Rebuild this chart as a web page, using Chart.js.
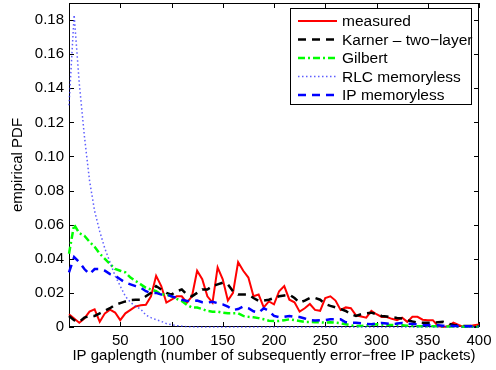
<!DOCTYPE html>
<html>
<head>
<meta charset="utf-8">
<title>IP gaplength PDF</title>
<script src="https://cdn.jsdelivr.net/npm/chart.js@4.4.0/dist/chart.umd.min.js"></script>
<style>
  html, body { margin: 0; padding: 0; background: #fff; }
  #wrap { position: relative; width: 496px; height: 370px; }
</style>
</head>
<body>
<div id="wrap"><canvas id="pdfChart"></canvas></div>
<script>
// gap length bins (IP packets)
const gapLength = [
    0, 5, 10, 15, 20, 25, 30, 35, 40, 45,
    50, 55, 60, 65, 70, 75, 80, 85, 90, 95,
    100, 105, 110, 115, 120, 125, 130, 135, 140, 145,
    150, 155, 160, 165, 170, 175, 180, 185, 190, 195,
    200, 205, 210, 215, 220, 225, 230, 235, 240, 245,
    250, 255, 260, 265, 270, 275, 280, 285, 290, 295,
    300, 305, 310, 315, 320, 325, 330, 335, 340, 345,
    350, 355, 360, 365, 370, 375, 380, 385, 390, 395,
    400
];

const pdfMeasured = [
    0.0075, 0.005, 0.0025, 0.005, 0.009, 0.0104, 0.003, 0.008, 0.0102, 0.0085,
    0.004, 0.008, 0.010, 0.012, 0.0127, 0.013, 0.018, 0.030, 0.024, 0.0143,
    0.016, 0.018, 0.018, 0.0143, 0.018, 0.033, 0.028, 0.018, 0.0143, 0.035,
    0.028, 0.0155, 0.020, 0.038, 0.033, 0.029, 0.018, 0.019, 0.0115, 0.015,
    0.0133, 0.021, 0.024, 0.016, 0.0145, 0.009, 0.011, 0.0135, 0.010, 0.0095,
    0.017, 0.018, 0.0155, 0.010, 0.0115, 0.011, 0.0068, 0.0062, 0.0055, 0.0095,
    0.0075, 0.0059, 0.0059, 0.0048, 0.004, 0.0055, 0.003, 0.006, 0.006, 0.0043,
    0.004, 0.004, 0.0005, 0, 0.0005, 0.0025, 0.0012, 0, 0.0005, 0.001,
    0.0015
];

const pdfKarner = [
    0.0065, 0.004, 0.003, 0.0055, 0.0065, 0.0065, 0.008, 0.0095, 0.011, 0.013,
    0.014, 0.015, 0.0158, 0.016, 0.016, 0.018, 0.020, 0.024, 0.022, 0.020,
    0.019, 0.021, 0.022, 0.019, 0.018, 0.020, 0.022, 0.022, 0.024, 0.025,
    0.026, 0.025, 0.021, 0.019, 0.019, 0.019, 0.017, 0.0153, 0.0155, 0.016,
    0.017, 0.018, 0.0185, 0.019, 0.017, 0.0143, 0.0155, 0.017, 0.017, 0.016,
    0.0135, 0.0124, 0.0115, 0.0105, 0.0094, 0.0075, 0.0065, 0.0075, 0.008, 0.0084,
    0.0075, 0.0065, 0.0062, 0.0058, 0.0053, 0.005, 0.004, 0.0032, 0.0027, 0.0025,
    0.0025, 0.0026, 0.0028, 0.003, 0.002, 0.0012, 0.0009, 0.0006, 0.0006, 0.0006,
    0.0005
];

const pdfGilbert = [
    0.043, 0.060, 0.055, 0.0535, 0.050, 0.047, 0.043, 0.040, 0.037, 0.034,
    0.033, 0.032, 0.029, 0.027, 0.025, 0.023, 0.022, 0.021, 0.019, 0.019,
    0.018, 0.0165, 0.0153, 0.013, 0.0114, 0.0114, 0.0105, 0.0094, 0.009, 0.009,
    0.0084, 0.008, 0.008, 0.008, 0.0065, 0.006, 0.0057, 0.0052, 0.0045, 0.0037,
    0.0035, 0.0035, 0.004, 0.0045, 0.004, 0.0035, 0.003, 0.003, 0.0028, 0.0028,
    0.0025, 0.0028, 0.0025, 0.0022, 0.0016, 0.001, 0.0006, 0.0006, 0.0008, 0.0012,
    0.0016, 0.0014, 0.0012, 0.0012, 0.0012, 0.001, 0.0008, 0.0006, 0.0005, 0.0005,
    0.0005, 0.0004, 0.0004, 0.0003, 0.0003, 0.0003, 0.0002, 0.0002, 0.0002, 0.0002,
    0.0001
];

const pdfRlc = [
    0.13, 0.183, 0.143, 0.112, 0.086, 0.068, 0.056, 0.046, 0.038, 0.030,
    0.024, 0.018, 0.0145, 0.012, 0.0105, 0.007, 0.0055, 0.0043, 0.0033, 0.002,
    0.0013, 0.0008, 0.0005, 0.0002, 0.0001, 0, 0, 0, 0, 0,
    0, 0, 0, 0, 0, 0, 0, 0, 0, 0,
    0, 0, 0, 0, 0, 0, 0, 0, 0, 0,
    0, 0, 0, 0, 0, 0, 0, 0, 0, 0,
    0, 0, 0, 0, 0, 0, 0, 0, 0, 0,
    0, 0, 0, 0, 0, 0, 0, 0, 0, 0,
    0
];

const pdfIp = [
    0.032, 0.041, 0.038, 0.034, 0.031, 0.034, 0.034, 0.033, 0.031, 0.030,
    0.028, 0.026, 0.025, 0.024, 0.023, 0.021, 0.020, 0.020, 0.019, 0.019,
    0.018, 0.017, 0.016, 0.0153, 0.0153, 0.0155, 0.0145, 0.0143, 0.0148, 0.014,
    0.0133, 0.012, 0.010, 0.0105, 0.012, 0.011, 0.0092, 0.0084, 0.011, 0.0095,
    0.0065, 0.0058, 0.006, 0.0065, 0.006, 0.0058, 0.005, 0.004, 0.0038, 0.004,
    0.004, 0.0045, 0.0045, 0.0045, 0.0028, 0.0025, 0.0025, 0.0022, 0.0018, 0.0016,
    0.002, 0.0024, 0.002, 0.0016, 0.002, 0.0024, 0.002, 0.0018, 0.0015, 0.0012,
    0.001, 0.0012, 0.001, 0.0008, 0.0008, 0.0006, 0.0006, 0.0005, 0.0005, 0.0004,
    0.0004
];

const xTicks = [0, 50, 100, 150, 200, 250, 300, 350, 400];
const yTicks = [0, 0.02, 0.04, 0.06, 0.08, 0.1, 0.12, 0.14, 0.16, 0.18];

const FONT = { family: "'Liberation Sans', Arial, Helvetica, sans-serif", size: 15 };

function toPoints(values) {
    return gapLength.map((g, i) => ({ x: g, y: values[i] }));
}

// box around the axes with inward ticks on all four sides
const axesFrame = {
    id: 'axesFrame',
    beforeDatasetsDraw(chart) {
        const { ctx, chartArea: a, scales: { x, y } } = chart;
        const len = 5;
        ctx.save();
        ctx.strokeStyle = '#000';
        ctx.lineWidth = 1;
        ctx.strokeRect(a.left + 0.5, a.top + 0.5, a.right - a.left - 1, a.bottom - a.top - 1);
        ctx.beginPath();
        xTicks.forEach(v => {
            const px = Math.round(x.getPixelForValue(v)) + 0.5;
            ctx.moveTo(px, a.bottom); ctx.lineTo(px, a.bottom - len);
            ctx.moveTo(px, a.top); ctx.lineTo(px, a.top + len);
        });
        yTicks.forEach(v => {
            const py = Math.round(y.getPixelForValue(v)) + 0.5;
            ctx.moveTo(a.left, py); ctx.lineTo(a.left + len, py);
            ctx.moveTo(a.right, py); ctx.lineTo(a.right - len, py);
        });
        ctx.stroke();
        ctx.restore();
    }
};

// legend box in the upper right corner
const boxLegend = {
    id: 'boxLegend',
    afterDatasetsDraw(chart) {
        const { ctx } = chart;
        const bx = 290, by = 8, bw = 182, bh = 97;
        ctx.save();
        ctx.fillStyle = '#fff';
        ctx.fillRect(bx, by, bw, bh);
        ctx.strokeStyle = '#000';
        ctx.lineWidth = 1;
        ctx.strokeRect(bx + 0.5, by + 0.5, bw - 1, bh - 1);
        ctx.font = `15.5px ${FONT.family}`;
        ctx.textBaseline = 'middle';
        chart.data.datasets.forEach((ds, i) => {
            const ry = by + 13 + i * 18.5;
            ctx.beginPath();
            ctx.setLineDash(ds.borderDash || []);
            ctx.lineWidth = ds.borderWidth;
            ctx.strokeStyle = ds.borderColor;
            ctx.moveTo(bx + 8, ry);
            ctx.lineTo(bx + 47, ry);
            ctx.stroke();
            ctx.setLineDash([]);
            ctx.fillStyle = '#000';
            ctx.fillText(ds.label, bx + 52, ry + 1);
        });
        ctx.restore();
    }
};

const ctx = document.getElementById('pdfChart').getContext('2d');
new Chart(ctx, {
    type: 'line',
    data: {
        datasets: [
            {
                label: 'measured',
                data: toPoints(pdfMeasured),
                borderColor: '#ff0000',
                borderWidth: 2,
                order: 5
            },
            {
                label: 'Karner \u2013 two\u2212layer',
                data: toPoints(pdfKarner),
                borderColor: '#000000',
                borderWidth: 2.5,
                borderDash: [8, 6],
                order: 4
            },
            {
                label: 'Gilbert',
                data: toPoints(pdfGilbert),
                borderColor: '#00ff00',
                borderWidth: 2.5,
                borderDash: [7, 3, 2, 3],
                order: 3
            },
            {
                label: 'RLC memoryless',
                data: toPoints(pdfRlc),
                borderColor: 'rgba(40, 40, 255, 0.75)',
                borderWidth: 1.5,
                borderDash: [1.5, 2.5],
                order: 2
            },
            {
                label: 'IP memoryless',
                data: toPoints(pdfIp),
                borderColor: '#0000ff',
                borderWidth: 2.5,
                borderDash: [8, 6],
                order: 1
            }
        ]
    },
    options: {
        responsive: true,
        maintainAspectRatio: false,
        animation: false,
        devicePixelRatio: 1,
        layout: { padding: { top: 3, right: 17, left: 0, bottom: 0 } },
        elements: {
            point: { radius: 0 },
            line: { tension: 0, fill: false }
        },
        datasets: { line: { clip: false } },
        plugins: {
            legend: { display: false },
            tooltip: { enabled: false }
        },
        scales: {
            x: {
                type: 'linear',
                min: 0,
                max: 400,
                afterFit: s => {
                    s.height = 43;
                    s.paddingLeft = 0;
                    s.paddingRight = 0;
                },
                afterBuildTicks: s => { s.ticks = xTicks.map(v => ({ value: v })); },
                grid: { display: false, drawTicks: false },
                border: { display: false },
                ticks: {
                    font: FONT,
                    color: '#000',
                    padding: 5,
                    maxRotation: 0,
                    autoSkip: false,
                    callback: v => (v === 0 ? '' : String(v))
                },
                title: {
                    display: true,
                    text: 'IP gaplength (number of subsequently error\u2212free IP packets)',
                    font: FONT,
                    color: '#000',
                    padding: { top: 0, bottom: 5 }
                }
            },
            y: {
                type: 'linear',
                min: 0,
                max: 0.19,
                afterFit: s => {
                    s.width = 69;
                    s.paddingTop = 0;
                    s.paddingBottom = 0;
                },
                afterBuildTicks: s => { s.ticks = yTicks.map(v => ({ value: v })); },
                grid: { display: false, drawTicks: false },
                border: { display: false },
                ticks: {
                    font: FONT,
                    color: '#000',
                    padding: 5,
                    autoSkip: false,
                    callback: v => (v === 0 ? '0' : v.toFixed(2))
                },
                title: {
                    display: true,
                    text: 'empirical PDF',
                    font: FONT,
                    color: '#000',
                    padding: { top: 9, bottom: 0 }
                }
            }
        }
    },
    plugins: [axesFrame, boxLegend]
});
</script>
</body>
</html>
